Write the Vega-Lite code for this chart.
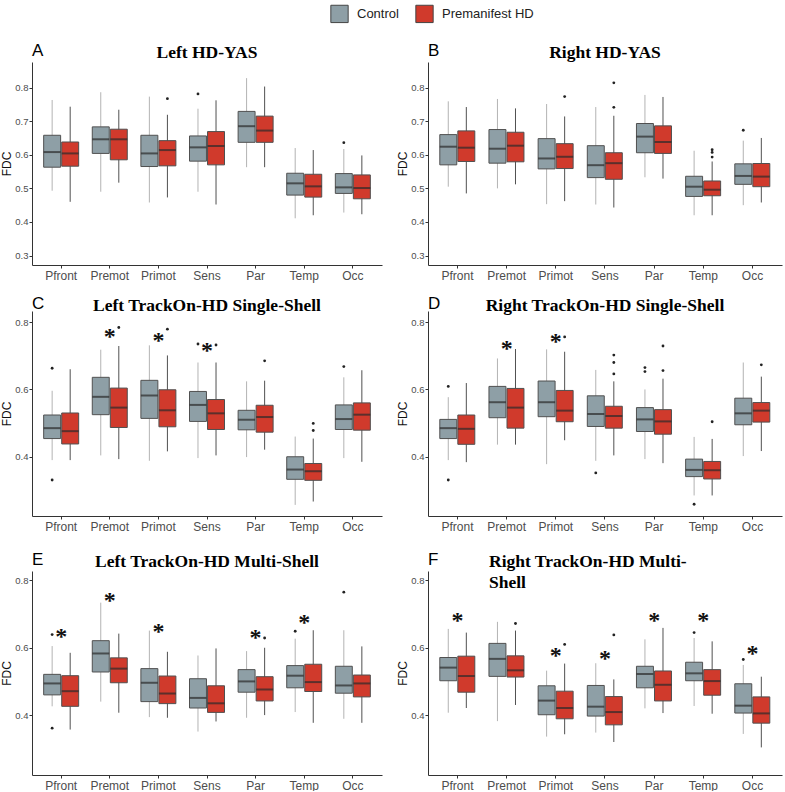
{
"$schema":"https://vega.github.io/schema/vega-lite/v6.json",
"padding":{"left":0,"top":4,"right":2,"bottom":0},
"background":"white",
"config":{
 "view":{"stroke":null},
 "font":"Liberation Sans",
 "title":{"font":"Liberation Serif","fontSize":17.5,"fontWeight":"bold","color":"#000","anchor":"middle","frame":"group","offset":4},
 "axis":{"grid":false,"domainColor":"#333","tickColor":"#333","labelColor":"#4d4d4d","tickSize":3,"labelFont":"Liberation Sans","titleFont":"Liberation Sans","titleFontWeight":"normal","titleColor":"#111"},
 "axisX":{"labelFontSize":12,"labelPadding":2,"labelAngle":0},
 "axisY":{"labelFontSize":9.5,"titleFontSize":12,"titlePadding":1,"labelPadding":1},
 "legend":{"symbolType":"square","symbolSize":300,"symbolStrokeColor":"#444","symbolStrokeWidth":1,"labelFontSize":13,"labelFont":"Liberation Sans","labelColor":"#222","columnPadding":14,"labelOffset":8}
},
"datasets":{
"box":[
{"p":"A","r":"Pfront","g":"Control","lo":0.493,"q1":0.563,"md":0.608,"q3":0.658,"hi":0.763},
{"p":"A","r":"Pfront","g":"Premanifest HD","lo":0.46,"q1":0.566,"md":0.604,"q3":0.638,"hi":0.743},
{"p":"A","r":"Premot","g":"Control","lo":0.49,"q1":0.604,"md":0.646,"q3":0.683,"hi":0.786},
{"p":"A","r":"Premot","g":"Premanifest HD","lo":0.517,"q1":0.585,"md":0.646,"q3":0.676,"hi":0.734},
{"p":"A","r":"Primot","g":"Control","lo":0.458,"q1":0.565,"md":0.604,"q3":0.658,"hi":0.773},
{"p":"A","r":"Primot","g":"Premanifest HD","lo":0.473,"q1":0.567,"md":0.614,"q3":0.642,"hi":0.719},
{"p":"A","r":"Sens","g":"Control","lo":0.49,"q1":0.581,"md":0.622,"q3":0.656,"hi":0.737},
{"p":"A","r":"Sens","g":"Premanifest HD","lo":0.452,"q1":0.57,"md":0.626,"q3":0.669,"hi":0.762},
{"p":"A","r":"Par","g":"Control","lo":0.563,"q1":0.637,"md":0.685,"q3":0.729,"hi":0.828},
{"p":"A","r":"Par","g":"Premanifest HD","lo":0.563,"q1":0.637,"md":0.672,"q3":0.715,"hi":0.803},
{"p":"A","r":"Temp","g":"Control","lo":0.411,"q1":0.48,"md":0.515,"q3":0.545,"hi":0.62},
{"p":"A","r":"Temp","g":"Premanifest HD","lo":0.42,"q1":0.474,"md":0.506,"q3":0.542,"hi":0.614},
{"p":"A","r":"Occ","g":"Control","lo":0.428,"q1":0.485,"md":0.503,"q3":0.544,"hi":0.617},
{"p":"A","r":"Occ","g":"Premanifest HD","lo":0.423,"q1":0.469,"md":0.501,"q3":0.54,"hi":0.598},
{"p":"B","r":"Pfront","g":"Control","lo":0.505,"q1":0.57,"md":0.624,"q3":0.66,"hi":0.759},
{"p":"B","r":"Pfront","g":"Premanifest HD","lo":0.485,"q1":0.58,"md":0.621,"q3":0.671,"hi":0.742},
{"p":"B","r":"Premot","g":"Control","lo":0.5,"q1":0.575,"md":0.618,"q3":0.675,"hi":0.766},
{"p":"B","r":"Premot","g":"Premanifest HD","lo":0.512,"q1":0.579,"md":0.627,"q3":0.667,"hi":0.738},
{"p":"B","r":"Primot","g":"Control","lo":0.453,"q1":0.558,"md":0.589,"q3":0.648,"hi":0.751},
{"p":"B","r":"Primot","g":"Premanifest HD","lo":0.462,"q1":0.559,"md":0.594,"q3":0.633,"hi":0.714},
{"p":"B","r":"Sens","g":"Control","lo":0.452,"q1":0.532,"md":0.569,"q3":0.627,"hi":0.742},
{"p":"B","r":"Sens","g":"Premanifest HD","lo":0.443,"q1":0.527,"md":0.575,"q3":0.606,"hi":0.716},
{"p":"B","r":"Par","g":"Control","lo":0.533,"q1":0.606,"md":0.654,"q3":0.693,"hi":0.778},
{"p":"B","r":"Par","g":"Premanifest HD","lo":0.529,"q1":0.604,"md":0.638,"q3":0.686,"hi":0.772},
{"p":"B","r":"Temp","g":"Control","lo":0.42,"q1":0.476,"md":0.505,"q3":0.536,"hi":0.612},
{"p":"B","r":"Temp","g":"Premanifest HD","lo":0.42,"q1":0.478,"md":0.496,"q3":0.522,"hi":0.58},
{"p":"B","r":"Occ","g":"Control","lo":0.45,"q1":0.512,"md":0.537,"q3":0.573,"hi":0.642},
{"p":"B","r":"Occ","g":"Premanifest HD","lo":0.458,"q1":0.505,"md":0.535,"q3":0.574,"hi":0.65},
{"p":"C","r":"Pfront","g":"Control","lo":0.39,"q1":0.454,"md":0.485,"q3":0.524,"hi":0.596},
{"p":"C","r":"Pfront","g":"Premanifest HD","lo":0.39,"q1":0.438,"md":0.476,"q3":0.53,"hi":0.66},
{"p":"C","r":"Premot","g":"Control","lo":0.404,"q1":0.525,"md":0.578,"q3":0.636,"hi":0.718},
{"p":"C","r":"Premot","g":"Premanifest HD","lo":0.393,"q1":0.487,"md":0.546,"q3":0.604,"hi":0.729},
{"p":"C","r":"Primot","g":"Control","lo":0.388,"q1":0.514,"md":0.582,"q3":0.627,"hi":0.731},
{"p":"C","r":"Primot","g":"Premanifest HD","lo":0.416,"q1":0.489,"md":0.538,"q3":0.599,"hi":0.701},
{"p":"C","r":"Sens","g":"Control","lo":0.396,"q1":0.505,"md":0.554,"q3":0.594,"hi":0.68},
{"p":"C","r":"Sens","g":"Premanifest HD","lo":0.404,"q1":0.481,"md":0.529,"q3":0.57,"hi":0.68},
{"p":"C","r":"Par","g":"Control","lo":0.399,"q1":0.48,"md":0.51,"q3":0.538,"hi":0.624},
{"p":"C","r":"Par","g":"Premanifest HD","lo":0.421,"q1":0.473,"md":0.518,"q3":0.553,"hi":0.626},
{"p":"C","r":"Temp","g":"Control","lo":0.257,"q1":0.333,"md":0.362,"q3":0.4,"hi":0.46},
{"p":"C","r":"Temp","g":"Premanifest HD","lo":0.267,"q1":0.33,"md":0.357,"q3":0.38,"hi":0.454},
{"p":"C","r":"Occ","g":"Control","lo":0.396,"q1":0.481,"md":0.512,"q3":0.554,"hi":0.636},
{"p":"C","r":"Occ","g":"Premanifest HD","lo":0.385,"q1":0.479,"md":0.525,"q3":0.56,"hi":0.657},
{"p":"D","r":"Pfront","g":"Control","lo":0.39,"q1":0.454,"md":0.485,"q3":0.511,"hi":0.577},
{"p":"D","r":"Pfront","g":"Premanifest HD","lo":0.384,"q1":0.437,"md":0.483,"q3":0.524,"hi":0.619},
{"p":"D","r":"Premot","g":"Control","lo":0.436,"q1":0.516,"md":0.562,"q3":0.609,"hi":0.692},
{"p":"D","r":"Premot","g":"Premanifest HD","lo":0.436,"q1":0.485,"md":0.546,"q3":0.603,"hi":0.72},
{"p":"D","r":"Primot","g":"Control","lo":0.378,"q1":0.519,"md":0.562,"q3":0.625,"hi":0.719},
{"p":"D","r":"Primot","g":"Premanifest HD","lo":0.449,"q1":0.504,"md":0.537,"q3":0.597,"hi":0.712},
{"p":"D","r":"Sens","g":"Control","lo":0.388,"q1":0.49,"md":0.527,"q3":0.581,"hi":0.658},
{"p":"D","r":"Sens","g":"Premanifest HD","lo":0.404,"q1":0.485,"md":0.521,"q3":0.55,"hi":0.624},
{"p":"D","r":"Par","g":"Control","lo":0.393,"q1":0.475,"md":0.511,"q3":0.546,"hi":0.6},
{"p":"D","r":"Par","g":"Premanifest HD","lo":0.381,"q1":0.467,"md":0.505,"q3":0.54,"hi":0.632},
{"p":"D","r":"Temp","g":"Control","lo":0.285,"q1":0.341,"md":0.361,"q3":0.393,"hi":0.459},
{"p":"D","r":"Temp","g":"Premanifest HD","lo":0.285,"q1":0.334,"md":0.36,"q3":0.386,"hi":0.453},
{"p":"D","r":"Occ","g":"Control","lo":0.402,"q1":0.495,"md":0.529,"q3":0.574,"hi":0.68},
{"p":"D","r":"Occ","g":"Premanifest HD","lo":0.417,"q1":0.503,"md":0.537,"q3":0.561,"hi":0.638},
{"p":"E","r":"Pfront","g":"Control","lo":0.426,"q1":0.46,"md":0.494,"q3":0.521,"hi":0.605},
{"p":"E","r":"Pfront","g":"Premanifest HD","lo":0.357,"q1":0.426,"md":0.471,"q3":0.517,"hi":0.585},
{"p":"E","r":"Premot","g":"Control","lo":0.44,"q1":0.528,"md":0.583,"q3":0.621,"hi":0.734},
{"p":"E","r":"Premot","g":"Premanifest HD","lo":0.407,"q1":0.496,"md":0.538,"q3":0.57,"hi":0.642},
{"p":"E","r":"Primot","g":"Control","lo":0.394,"q1":0.44,"md":0.496,"q3":0.538,"hi":0.651},
{"p":"E","r":"Primot","g":"Premanifest HD","lo":0.392,"q1":0.434,"md":0.464,"q3":0.516,"hi":0.588},
{"p":"E","r":"Sens","g":"Control","lo":0.351,"q1":0.421,"md":0.451,"q3":0.508,"hi":0.577},
{"p":"E","r":"Sens","g":"Premanifest HD","lo":0.381,"q1":0.408,"md":0.435,"q3":0.487,"hi":0.598},
{"p":"E","r":"Par","g":"Control","lo":0.392,"q1":0.468,"md":0.5,"q3":0.535,"hi":0.59},
{"p":"E","r":"Par","g":"Premanifest HD","lo":0.4,"q1":0.442,"md":0.476,"q3":0.514,"hi":0.6},
{"p":"E","r":"Temp","g":"Control","lo":0.409,"q1":0.481,"md":0.517,"q3":0.547,"hi":0.627},
{"p":"E","r":"Temp","g":"Premanifest HD","lo":0.377,"q1":0.47,"md":0.498,"q3":0.551,"hi":0.652},
{"p":"E","r":"Occ","g":"Control","lo":0.389,"q1":0.465,"md":0.488,"q3":0.545,"hi":0.652},
{"p":"E","r":"Occ","g":"Premanifest HD","lo":0.377,"q1":0.454,"md":0.494,"q3":0.519,"hi":0.604},
{"p":"F","r":"Pfront","g":"Control","lo":0.407,"q1":0.502,"md":0.541,"q3":0.571,"hi":0.656},
{"p":"F","r":"Pfront","g":"Premanifest HD","lo":0.421,"q1":0.468,"md":0.516,"q3":0.575,"hi":0.645},
{"p":"F","r":"Premot","g":"Control","lo":0.382,"q1":0.515,"md":0.567,"q3":0.613,"hi":0.677},
{"p":"F","r":"Premot","g":"Premanifest HD","lo":0.43,"q1":0.513,"md":0.533,"q3":0.576,"hi":0.651},
{"p":"F","r":"Primot","g":"Control","lo":0.336,"q1":0.401,"md":0.443,"q3":0.487,"hi":0.532},
{"p":"F","r":"Primot","g":"Premanifest HD","lo":0.343,"q1":0.389,"md":0.421,"q3":0.471,"hi":0.553},
{"p":"F","r":"Sens","g":"Control","lo":0.348,"q1":0.397,"md":0.425,"q3":0.488,"hi":0.554},
{"p":"F","r":"Sens","g":"Premanifest HD","lo":0.32,"q1":0.371,"md":0.409,"q3":0.455,"hi":0.506},
{"p":"F","r":"Par","g":"Control","lo":0.42,"q1":0.481,"md":0.522,"q3":0.545,"hi":0.625},
{"p":"F","r":"Par","g":"Premanifest HD","lo":0.406,"q1":0.442,"md":0.49,"q3":0.531,"hi":0.659},
{"p":"F","r":"Temp","g":"Control","lo":0.427,"q1":0.502,"md":0.524,"q3":0.557,"hi":0.629},
{"p":"F","r":"Temp","g":"Premanifest HD","lo":0.404,"q1":0.459,"md":0.501,"q3":0.535,"hi":0.619},
{"p":"F","r":"Occ","g":"Control","lo":0.344,"q1":0.406,"md":0.428,"q3":0.493,"hi":0.549},
{"p":"F","r":"Occ","g":"Premanifest HD","lo":0.304,"q1":0.376,"md":0.405,"q3":0.454,"hi":0.514}
],
"out":[
{"p":"A","r":"Primot","g":"Premanifest HD","v":0.767},
{"p":"A","r":"Sens","g":"Control","v":0.781},
{"p":"A","r":"Occ","g":"Control","v":0.636},
{"p":"B","r":"Primot","g":"Premanifest HD","v":0.773},
{"p":"B","r":"Sens","g":"Premanifest HD","v":0.814},
{"p":"B","r":"Sens","g":"Premanifest HD","v":0.741},
{"p":"B","r":"Temp","g":"Premanifest HD","v":0.615},
{"p":"B","r":"Temp","g":"Premanifest HD","v":0.607},
{"p":"B","r":"Temp","g":"Premanifest HD","v":0.593},
{"p":"B","r":"Occ","g":"Control","v":0.673},
{"p":"C","r":"Pfront","g":"Control","v":0.663},
{"p":"C","r":"Pfront","g":"Control","v":0.331},
{"p":"C","r":"Premot","g":"Premanifest HD","v":0.784},
{"p":"C","r":"Primot","g":"Premanifest HD","v":0.779},
{"p":"C","r":"Sens","g":"Control","v":0.735},
{"p":"C","r":"Sens","g":"Premanifest HD","v":0.732},
{"p":"C","r":"Par","g":"Premanifest HD","v":0.685},
{"p":"C","r":"Temp","g":"Premanifest HD","v":0.499},
{"p":"C","r":"Temp","g":"Premanifest HD","v":0.478},
{"p":"C","r":"Occ","g":"Control","v":0.668},
{"p":"D","r":"Pfront","g":"Control","v":0.609},
{"p":"D","r":"Pfront","g":"Control","v":0.331},
{"p":"D","r":"Primot","g":"Premanifest HD","v":0.756},
{"p":"D","r":"Sens","g":"Control","v":0.352},
{"p":"D","r":"Sens","g":"Premanifest HD","v":0.702},
{"p":"D","r":"Sens","g":"Premanifest HD","v":0.68},
{"p":"D","r":"Sens","g":"Premanifest HD","v":0.646},
{"p":"D","r":"Par","g":"Control","v":0.665},
{"p":"D","r":"Par","g":"Control","v":0.653},
{"p":"D","r":"Par","g":"Premanifest HD","v":0.729},
{"p":"D","r":"Par","g":"Premanifest HD","v":0.656},
{"p":"D","r":"Temp","g":"Control","v":0.259},
{"p":"D","r":"Temp","g":"Premanifest HD","v":0.504},
{"p":"D","r":"Occ","g":"Premanifest HD","v":0.673},
{"p":"E","r":"Pfront","g":"Control","v":0.639},
{"p":"E","r":"Pfront","g":"Control","v":0.361},
{"p":"E","r":"Par","g":"Premanifest HD","v":0.629},
{"p":"E","r":"Temp","g":"Control","v":0.649},
{"p":"E","r":"Occ","g":"Control","v":0.765},
{"p":"F","r":"Premot","g":"Premanifest HD","v":0.672},
{"p":"F","r":"Primot","g":"Premanifest HD","v":0.61},
{"p":"F","r":"Sens","g":"Premanifest HD","v":0.638},
{"p":"F","r":"Temp","g":"Control","v":0.645},
{"p":"F","r":"Occ","g":"Control","v":0.565}
],
"star":[
{"p":"C","r":"Premot","v":0.767,"s":"*"},
{"p":"C","r":"Primot","v":0.757,"s":"*"},
{"p":"C","r":"Sens","v":0.726,"s":"*"},
{"p":"D","r":"Premot","v":0.733,"s":"*"},
{"p":"D","r":"Primot","v":0.752,"s":"*"},
{"p":"E","r":"Pfront","v":0.644,"s":"*"},
{"p":"E","r":"Premot","v":0.751,"s":"*"},
{"p":"E","r":"Primot","v":0.659,"s":"*"},
{"p":"E","r":"Par","v":0.642,"s":"*"},
{"p":"E","r":"Temp","v":0.686,"s":"*"},
{"p":"F","r":"Pfront","v":0.69,"s":"*"},
{"p":"F","r":"Primot","v":0.588,"s":"*"},
{"p":"F","r":"Sens","v":0.578,"s":"*"},
{"p":"F","r":"Par","v":0.69,"s":"*"},
{"p":"F","r":"Temp","v":0.69,"s":"*"},
{"p":"F","r":"Occ","v":0.592,"s":"*"}
]
},
"columns":2,
"spacing":{"row":13,"column":14},
"concat":[
{"title":{"text":"A","anchor":"start","font":"Liberation Sans","fontSize":17,"fontWeight":"normal","dy":16,"dx":0,"offset":0},
 "vconcat":[{"width":350,"height":203,"title":{"text":"Left HD-YAS","offset":1},
 "encoding":{"x":{"field":"r","type":"nominal","sort":["Pfront","Premot","Primot","Sens","Par","Temp","Occ"],"scale":{"paddingInner":0.28,"paddingOuter":0.24},"title":null}},
 "layer":[
 {"data":{"name":"box"},"transform":[{"filter":"datum.p=='A'"}],"mark":{"type":"rule","strokeWidth":1},"encoding":{"xOffset":{"field":"g","scale":{"paddingInner":0.06,"paddingOuter":0}},"y":{"field":"lo","type":"quantitative","title":"FDC","scale":{"domain":[0.272,0.876],"nice":false,"zero":false},"axis":{"values":[0.3,0.4,0.5,0.6,0.7,0.8],"format":".1f"}},"y2":{"field":"hi"},"color":{"condition":{"test":"datum.g=='Control'","value":"#b3b3b3"},"value":"#505050"}}},
 {"data":{"name":"box"},"transform":[{"filter":"datum.p=='A'"}],"mark":{"type":"bar","stroke":"#505050","strokeWidth":1},"encoding":{"xOffset":{"field":"g","scale":{"paddingInner":0.06,"paddingOuter":0}},"y":{"field":"q1","type":"quantitative","title":"FDC","scale":{"domain":[0.272,0.876],"nice":false,"zero":false},"axis":{"values":[0.3,0.4,0.5,0.6,0.7,0.8],"format":".1f"}},"y2":{"field":"q3"},"color":{"field":"g","type":"nominal","scale":{"domain":["Control","Premanifest HD"],"range":["#8E9FA6","#D03A2C"]},"legend":{"title":null,"orient":"none","direction":"horizontal","legendX":298,"legendY":-58}}}},
 {"data":{"name":"box"},"transform":[{"filter":"datum.p=='A'"}],"mark":{"type":"tick","orient":"horizontal","color":"#2b2b2b","thickness":2,"size":17},"encoding":{"xOffset":{"field":"g","scale":{"paddingInner":0.06,"paddingOuter":0}},"y":{"field":"md","type":"quantitative","title":"FDC","scale":{"domain":[0.272,0.876],"nice":false,"zero":false},"axis":{"values":[0.3,0.4,0.5,0.6,0.7,0.8],"format":".1f"}}}},
 {"data":{"name":"out"},"transform":[{"filter":"datum.p=='A'"}],"mark":{"type":"point","filled":true,"size":8,"color":"#222","opacity":1},"encoding":{"xOffset":{"field":"g","scale":{"paddingInner":0.06,"paddingOuter":0}},"y":{"field":"v","type":"quantitative","title":"FDC","scale":{"domain":[0.272,0.876],"nice":false,"zero":false},"axis":{"values":[0.3,0.4,0.5,0.6,0.7,0.8],"format":".1f"}}}}
 ]}]},
{"title":{"text":"B","anchor":"start","font":"Liberation Sans","fontSize":17,"fontWeight":"normal","dy":16,"dx":0,"offset":0},
 "vconcat":[{"width":354,"height":203,"title":{"text":"Right HD-YAS","offset":1},
 "encoding":{"x":{"field":"r","type":"nominal","sort":["Pfront","Premot","Primot","Sens","Par","Temp","Occ"],"scale":{"paddingInner":0.28,"paddingOuter":0.24},"title":null}},
 "layer":[
 {"data":{"name":"box"},"transform":[{"filter":"datum.p=='B'"}],"mark":{"type":"rule","strokeWidth":1},"encoding":{"xOffset":{"field":"g","scale":{"paddingInner":0.06,"paddingOuter":0}},"y":{"field":"lo","type":"quantitative","title":"FDC","scale":{"domain":[0.272,0.876],"nice":false,"zero":false},"axis":{"values":[0.3,0.4,0.5,0.6,0.7,0.8],"format":".1f"}},"y2":{"field":"hi"},"color":{"condition":{"test":"datum.g=='Control'","value":"#b3b3b3"},"value":"#505050"}}},
 {"data":{"name":"box"},"transform":[{"filter":"datum.p=='B'"}],"mark":{"type":"bar","stroke":"#505050","strokeWidth":1},"encoding":{"xOffset":{"field":"g","scale":{"paddingInner":0.06,"paddingOuter":0}},"y":{"field":"q1","type":"quantitative","title":"FDC","scale":{"domain":[0.272,0.876],"nice":false,"zero":false},"axis":{"values":[0.3,0.4,0.5,0.6,0.7,0.8],"format":".1f"}},"y2":{"field":"q3"},"color":{"field":"g","type":"nominal","scale":{"domain":["Control","Premanifest HD"],"range":["#8E9FA6","#D03A2C"]},"legend":{"title":null,"orient":"none","direction":"horizontal","legendX":298,"legendY":-58}}}},
 {"data":{"name":"box"},"transform":[{"filter":"datum.p=='B'"}],"mark":{"type":"tick","orient":"horizontal","color":"#2b2b2b","thickness":2,"size":17},"encoding":{"xOffset":{"field":"g","scale":{"paddingInner":0.06,"paddingOuter":0}},"y":{"field":"md","type":"quantitative","title":"FDC","scale":{"domain":[0.272,0.876],"nice":false,"zero":false},"axis":{"values":[0.3,0.4,0.5,0.6,0.7,0.8],"format":".1f"}}}},
 {"data":{"name":"out"},"transform":[{"filter":"datum.p=='B'"}],"mark":{"type":"point","filled":true,"size":8,"color":"#222","opacity":1},"encoding":{"xOffset":{"field":"g","scale":{"paddingInner":0.06,"paddingOuter":0}},"y":{"field":"v","type":"quantitative","title":"FDC","scale":{"domain":[0.272,0.876],"nice":false,"zero":false},"axis":{"values":[0.3,0.4,0.5,0.6,0.7,0.8],"format":".1f"}}}}
 ]}]},
{"title":{"text":"C","anchor":"start","font":"Liberation Sans","fontSize":17,"fontWeight":"normal","dy":16,"dx":0,"offset":0},
 "vconcat":[{"width":350,"height":205,"title":{"text":"Left TrackOn-HD Single-Shell","offset":-3},
 "encoding":{"x":{"field":"r","type":"nominal","sort":["Pfront","Premot","Primot","Sens","Par","Temp","Occ"],"scale":{"paddingInner":0.28,"paddingOuter":0.24},"title":null}},
 "layer":[
 {"data":{"name":"box"},"transform":[{"filter":"datum.p=='C'"}],"mark":{"type":"rule","strokeWidth":1},"encoding":{"xOffset":{"field":"g","scale":{"paddingInner":0.06,"paddingOuter":0}},"y":{"field":"lo","type":"quantitative","title":"FDC","scale":{"domain":[0.224,0.833],"nice":false,"zero":false},"axis":{"values":[0.4,0.6,0.8],"format":".1f"}},"y2":{"field":"hi"},"color":{"condition":{"test":"datum.g=='Control'","value":"#b3b3b3"},"value":"#505050"}}},
 {"data":{"name":"box"},"transform":[{"filter":"datum.p=='C'"}],"mark":{"type":"bar","stroke":"#505050","strokeWidth":1},"encoding":{"xOffset":{"field":"g","scale":{"paddingInner":0.06,"paddingOuter":0}},"y":{"field":"q1","type":"quantitative","title":"FDC","scale":{"domain":[0.224,0.833],"nice":false,"zero":false},"axis":{"values":[0.4,0.6,0.8],"format":".1f"}},"y2":{"field":"q3"},"color":{"field":"g","type":"nominal","scale":{"domain":["Control","Premanifest HD"],"range":["#8E9FA6","#D03A2C"]},"legend":{"title":null,"orient":"none","direction":"horizontal","legendX":298,"legendY":-58}}}},
 {"data":{"name":"box"},"transform":[{"filter":"datum.p=='C'"}],"mark":{"type":"tick","orient":"horizontal","color":"#2b2b2b","thickness":2,"size":17},"encoding":{"xOffset":{"field":"g","scale":{"paddingInner":0.06,"paddingOuter":0}},"y":{"field":"md","type":"quantitative","title":"FDC","scale":{"domain":[0.224,0.833],"nice":false,"zero":false},"axis":{"values":[0.4,0.6,0.8],"format":".1f"}}}},
 {"data":{"name":"out"},"transform":[{"filter":"datum.p=='C'"}],"mark":{"type":"point","filled":true,"size":8,"color":"#222","opacity":1},"encoding":{"xOffset":{"field":"g","scale":{"paddingInner":0.06,"paddingOuter":0}},"y":{"field":"v","type":"quantitative","title":"FDC","scale":{"domain":[0.224,0.833],"nice":false,"zero":false},"axis":{"values":[0.4,0.6,0.8],"format":".1f"}}}},
 {"data":{"name":"star"},"transform":[{"filter":"datum.p=='C'"}],"mark":{"type":"text","font":"Liberation Serif","fontWeight":"bold","fontSize":24,"baseline":"middle","dy":4,"color":"#111"},"encoding":{"y":{"field":"v","type":"quantitative","title":"FDC","scale":{"domain":[0.224,0.833],"nice":false,"zero":false},"axis":{"values":[0.4,0.6,0.8],"format":".1f"}},"text":{"field":"s"}}}
 ]}]},
{"title":{"text":"D","anchor":"start","font":"Liberation Sans","fontSize":17,"fontWeight":"normal","dy":16,"dx":0,"offset":0},
 "vconcat":[{"width":354,"height":205,"title":{"text":"Right TrackOn-HD Single-Shell","offset":-3},
 "encoding":{"x":{"field":"r","type":"nominal","sort":["Pfront","Premot","Primot","Sens","Par","Temp","Occ"],"scale":{"paddingInner":0.28,"paddingOuter":0.24},"title":null}},
 "layer":[
 {"data":{"name":"box"},"transform":[{"filter":"datum.p=='D'"}],"mark":{"type":"rule","strokeWidth":1},"encoding":{"xOffset":{"field":"g","scale":{"paddingInner":0.06,"paddingOuter":0}},"y":{"field":"lo","type":"quantitative","title":"FDC","scale":{"domain":[0.224,0.833],"nice":false,"zero":false},"axis":{"values":[0.4,0.6,0.8],"format":".1f"}},"y2":{"field":"hi"},"color":{"condition":{"test":"datum.g=='Control'","value":"#b3b3b3"},"value":"#505050"}}},
 {"data":{"name":"box"},"transform":[{"filter":"datum.p=='D'"}],"mark":{"type":"bar","stroke":"#505050","strokeWidth":1},"encoding":{"xOffset":{"field":"g","scale":{"paddingInner":0.06,"paddingOuter":0}},"y":{"field":"q1","type":"quantitative","title":"FDC","scale":{"domain":[0.224,0.833],"nice":false,"zero":false},"axis":{"values":[0.4,0.6,0.8],"format":".1f"}},"y2":{"field":"q3"},"color":{"field":"g","type":"nominal","scale":{"domain":["Control","Premanifest HD"],"range":["#8E9FA6","#D03A2C"]},"legend":{"title":null,"orient":"none","direction":"horizontal","legendX":298,"legendY":-58}}}},
 {"data":{"name":"box"},"transform":[{"filter":"datum.p=='D'"}],"mark":{"type":"tick","orient":"horizontal","color":"#2b2b2b","thickness":2,"size":17},"encoding":{"xOffset":{"field":"g","scale":{"paddingInner":0.06,"paddingOuter":0}},"y":{"field":"md","type":"quantitative","title":"FDC","scale":{"domain":[0.224,0.833],"nice":false,"zero":false},"axis":{"values":[0.4,0.6,0.8],"format":".1f"}}}},
 {"data":{"name":"out"},"transform":[{"filter":"datum.p=='D'"}],"mark":{"type":"point","filled":true,"size":8,"color":"#222","opacity":1},"encoding":{"xOffset":{"field":"g","scale":{"paddingInner":0.06,"paddingOuter":0}},"y":{"field":"v","type":"quantitative","title":"FDC","scale":{"domain":[0.224,0.833],"nice":false,"zero":false},"axis":{"values":[0.4,0.6,0.8],"format":".1f"}}}},
 {"data":{"name":"star"},"transform":[{"filter":"datum.p=='D'"}],"mark":{"type":"text","font":"Liberation Serif","fontWeight":"bold","fontSize":24,"baseline":"middle","dy":4,"color":"#111"},"encoding":{"y":{"field":"v","type":"quantitative","title":"FDC","scale":{"domain":[0.224,0.833],"nice":false,"zero":false},"axis":{"values":[0.4,0.6,0.8],"format":".1f"}},"text":{"field":"s"}}}
 ]}]},
{"title":{"text":["","E"],"lineHeight":5,"anchor":"start","font":"Liberation Sans","fontSize":17,"fontWeight":"normal","dy":16,"dx":0,"offset":0},
 "vconcat":[{"width":350,"height":204,"title":{"text":"Left TrackOn-HD Multi-Shell","offset":1},
 "encoding":{"x":{"field":"r","type":"nominal","sort":["Pfront","Premot","Primot","Sens","Par","Temp","Occ"],"scale":{"paddingInner":0.28,"paddingOuter":0.24},"title":null}},
 "layer":[
 {"data":{"name":"box"},"transform":[{"filter":"datum.p=='E'"}],"mark":{"type":"rule","strokeWidth":1},"encoding":{"xOffset":{"field":"g","scale":{"paddingInner":0.06,"paddingOuter":0}},"y":{"field":"lo","type":"quantitative","title":"FDC","scale":{"domain":[0.222,0.828],"nice":false,"zero":false},"axis":{"values":[0.4,0.6,0.8],"format":".1f"}},"y2":{"field":"hi"},"color":{"condition":{"test":"datum.g=='Control'","value":"#b3b3b3"},"value":"#505050"}}},
 {"data":{"name":"box"},"transform":[{"filter":"datum.p=='E'"}],"mark":{"type":"bar","stroke":"#505050","strokeWidth":1},"encoding":{"xOffset":{"field":"g","scale":{"paddingInner":0.06,"paddingOuter":0}},"y":{"field":"q1","type":"quantitative","title":"FDC","scale":{"domain":[0.222,0.828],"nice":false,"zero":false},"axis":{"values":[0.4,0.6,0.8],"format":".1f"}},"y2":{"field":"q3"},"color":{"field":"g","type":"nominal","scale":{"domain":["Control","Premanifest HD"],"range":["#8E9FA6","#D03A2C"]},"legend":{"title":null,"orient":"none","direction":"horizontal","legendX":298,"legendY":-58}}}},
 {"data":{"name":"box"},"transform":[{"filter":"datum.p=='E'"}],"mark":{"type":"tick","orient":"horizontal","color":"#2b2b2b","thickness":2,"size":17},"encoding":{"xOffset":{"field":"g","scale":{"paddingInner":0.06,"paddingOuter":0}},"y":{"field":"md","type":"quantitative","title":"FDC","scale":{"domain":[0.222,0.828],"nice":false,"zero":false},"axis":{"values":[0.4,0.6,0.8],"format":".1f"}}}},
 {"data":{"name":"out"},"transform":[{"filter":"datum.p=='E'"}],"mark":{"type":"point","filled":true,"size":8,"color":"#222","opacity":1},"encoding":{"xOffset":{"field":"g","scale":{"paddingInner":0.06,"paddingOuter":0}},"y":{"field":"v","type":"quantitative","title":"FDC","scale":{"domain":[0.222,0.828],"nice":false,"zero":false},"axis":{"values":[0.4,0.6,0.8],"format":".1f"}}}},
 {"data":{"name":"star"},"transform":[{"filter":"datum.p=='E'"}],"mark":{"type":"text","font":"Liberation Serif","fontWeight":"bold","fontSize":24,"baseline":"middle","dy":4,"color":"#111"},"encoding":{"y":{"field":"v","type":"quantitative","title":"FDC","scale":{"domain":[0.222,0.828],"nice":false,"zero":false},"axis":{"values":[0.4,0.6,0.8],"format":".1f"}},"text":{"field":"s"}}}
 ]}]},
{"title":{"text":["","F"],"lineHeight":5,"anchor":"start","font":"Liberation Sans","fontSize":17,"fontWeight":"normal","dy":16,"dx":0,"offset":0},
 "vconcat":[{"width":354,"height":204,"title":{"text":["Right TrackOn-HD Multi-","Shell"],"anchor":"start","align":"left","dx":61,"dy":21,"lineHeight":21,"offset":1},
 "encoding":{"x":{"field":"r","type":"nominal","sort":["Pfront","Premot","Primot","Sens","Par","Temp","Occ"],"scale":{"paddingInner":0.28,"paddingOuter":0.24},"title":null}},
 "layer":[
 {"data":{"name":"box"},"transform":[{"filter":"datum.p=='F'"}],"mark":{"type":"rule","strokeWidth":1},"encoding":{"xOffset":{"field":"g","scale":{"paddingInner":0.06,"paddingOuter":0}},"y":{"field":"lo","type":"quantitative","title":"FDC","scale":{"domain":[0.222,0.828],"nice":false,"zero":false},"axis":{"values":[0.4,0.6,0.8],"format":".1f"}},"y2":{"field":"hi"},"color":{"condition":{"test":"datum.g=='Control'","value":"#b3b3b3"},"value":"#505050"}}},
 {"data":{"name":"box"},"transform":[{"filter":"datum.p=='F'"}],"mark":{"type":"bar","stroke":"#505050","strokeWidth":1},"encoding":{"xOffset":{"field":"g","scale":{"paddingInner":0.06,"paddingOuter":0}},"y":{"field":"q1","type":"quantitative","title":"FDC","scale":{"domain":[0.222,0.828],"nice":false,"zero":false},"axis":{"values":[0.4,0.6,0.8],"format":".1f"}},"y2":{"field":"q3"},"color":{"field":"g","type":"nominal","scale":{"domain":["Control","Premanifest HD"],"range":["#8E9FA6","#D03A2C"]},"legend":{"title":null,"orient":"none","direction":"horizontal","legendX":298,"legendY":-58}}}},
 {"data":{"name":"box"},"transform":[{"filter":"datum.p=='F'"}],"mark":{"type":"tick","orient":"horizontal","color":"#2b2b2b","thickness":2,"size":17},"encoding":{"xOffset":{"field":"g","scale":{"paddingInner":0.06,"paddingOuter":0}},"y":{"field":"md","type":"quantitative","title":"FDC","scale":{"domain":[0.222,0.828],"nice":false,"zero":false},"axis":{"values":[0.4,0.6,0.8],"format":".1f"}}}},
 {"data":{"name":"out"},"transform":[{"filter":"datum.p=='F'"}],"mark":{"type":"point","filled":true,"size":8,"color":"#222","opacity":1},"encoding":{"xOffset":{"field":"g","scale":{"paddingInner":0.06,"paddingOuter":0}},"y":{"field":"v","type":"quantitative","title":"FDC","scale":{"domain":[0.222,0.828],"nice":false,"zero":false},"axis":{"values":[0.4,0.6,0.8],"format":".1f"}}}},
 {"data":{"name":"star"},"transform":[{"filter":"datum.p=='F'"}],"mark":{"type":"text","font":"Liberation Serif","fontWeight":"bold","fontSize":24,"baseline":"middle","dy":4,"color":"#111"},"encoding":{"y":{"field":"v","type":"quantitative","title":"FDC","scale":{"domain":[0.222,0.828],"nice":false,"zero":false},"axis":{"values":[0.4,0.6,0.8],"format":".1f"}},"text":{"field":"s"}}}
 ]}]}
]
}
